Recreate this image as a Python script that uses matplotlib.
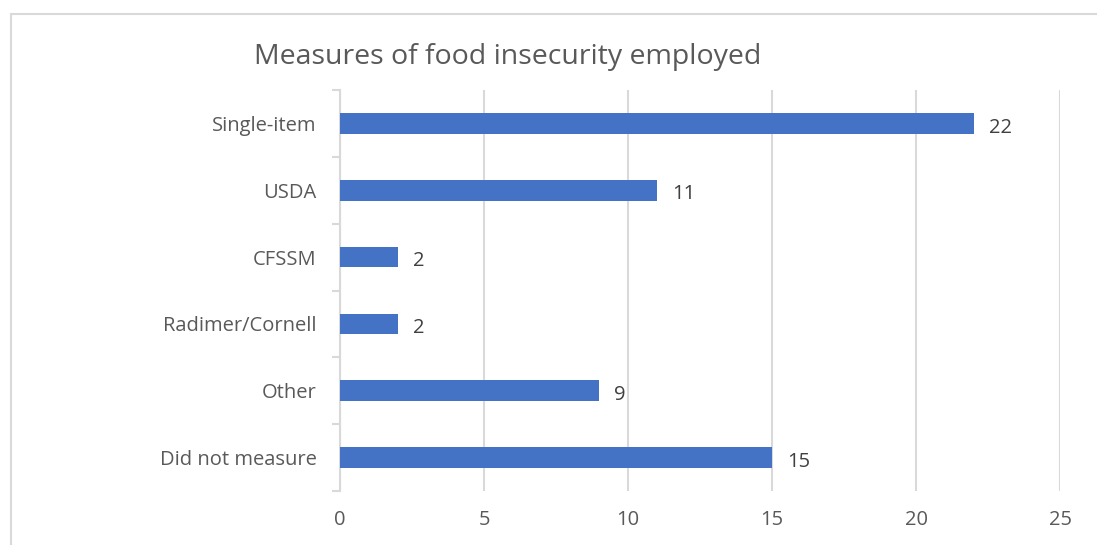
import numpy as np
import matplotlib.pyplot as plt
from matplotlib.patches import Rectangle

# dados do gráfico
categories = ["Single-item", "USDA", "CFSSM", "Radimer/Cornell", "Other", "Did not measure"]
counts = [22, 11, 2, 2, 9, 15]
xticks = [0, 5, 10, 15, 20, 25]

plt.rcParams['font.family'] = ['Open Sans', 'DejaVu Sans']

fig = plt.figure(figsize=(10.97, 5.45), dpi=100)
ax = fig.add_axes([340/1097, 1 - 491/545, 720/1097, 401/545])

y = np.arange(len(categories))
ax.barh(y, counts, height=0.31, color="#4472C4", zorder=3)

# rótulos de valor à direita de cada barra
for yi, v in zip(y, counts):
    ax.annotate(str(v), (v, yi), xytext=(11, -3), textcoords="offset points",
                va="center", ha="left", fontsize=14.5, color="#404040")

ax.set_ylim(len(categories) - 0.5, -0.5)
ax.set_xlim(0, 25)
ax.set_xticks(xticks)
ax.set_yticks(y)
ax.set_yticklabels(categories)
ax.set_yticks(np.arange(-0.5, len(categories)), minor=True)

ax.grid(axis="x", color="#D9D9D9", linewidth=1.5, zorder=0)
for s in ["top", "right", "bottom"]:
    ax.spines[s].set_visible(False)
ax.spines["left"].set_color("#D9D9D9")
ax.spines["left"].set_linewidth(1.5)

ax.tick_params(axis="x", length=0, pad=14, labelsize=14.5, labelcolor="#595959")
ax.tick_params(axis="y", which="major", length=0, pad=17, labelsize=14.5, labelcolor="#595959")
ax.tick_params(axis="y", which="minor", length=6, width=1.5, color="#D9D9D9", direction="out")

fig.text(508/1097, 1 - 57/545, "Measures of food insecurity employed", ha="center", va="center",
         fontsize=20.5, color="#595959")

# borda do gráfico
fig.patches.append(Rectangle((11/1097, -0.1), 1.2, 1 - 14/545 + 0.1, transform=fig.transFigure,
                             fill=False, edgecolor="#D9D9D9", linewidth=1.5))

fig.savefig("out.png", dpi=100)
